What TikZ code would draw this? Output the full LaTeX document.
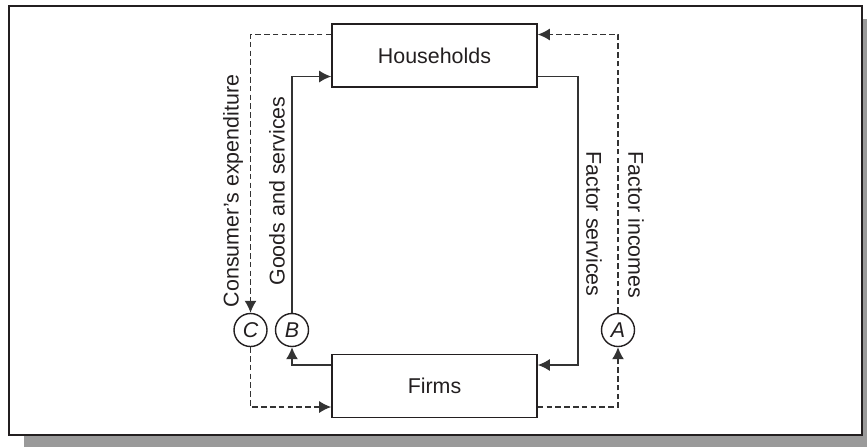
\documentclass[tikz,border=0pt]{standalone}
\usepackage{fontspec}
\setmainfont{Liberation Sans}
\usetikzlibrary{arrows.meta, positioning}
\definecolor{cink}{HTML}{231F20}
\definecolor{cline}{HTML}{333333}
\definecolor{cshadow}{HTML}{9A9A9A}
\tikzset{
  every picture/.style={font=\fontsize{10.7}{12}\selectfont, line width=0.7pt},
  sector/.style={draw=cink, line width=0.8pt, fill=white, minimum width=102.5pt, minimum height=31.5pt, inner sep=0pt, text=cink},
  flow/.style={-{Latex[length=6pt, width=6pt]}, draw=cline, line width=0.7pt},
  money/.style={flow, dash pattern=on 2.8pt off 1.6pt},
  point/.style={circle, draw=cink, line width=0.7pt, minimum size=16.5pt, inner sep=0pt, font=\fontsize{10.7}{12}\selectfont\itshape, text=cink},
  tag/.style={text=cink, inner sep=1pt},
}

\begin{document}
\begin{tikzpicture}[x=0.5pt, y=-0.5pt]
  \def\off{10.5pt}
  \useasboundingbox (0,0) rectangle (867,447);
  % frame with shadow
  \fill[cshadow] (24,19) rectangle (867,447);
  \draw[cink, line width=0.8pt, fill=white] (9,6) rectangle (862,435);
  % sectors
  \node[sector] (hh) at (434.5,55.5) {Households};
  \node[sector] (fm) at (434.5,386) {Firms};
  % points
  \node[point] (C) at (250.5,330) {C};
  \node[point] (B) at (292,330) {B};
  \node[point] (A) at (618,330) {A};
  % real flows
  \draw[flow] (B.north) |- ([yshift=-\off]hh.west);
  \draw[flow] ([yshift=\off]fm.west) -| (B.south);
  \draw[flow] ([yshift=-\off]hh.east) -- ++(40,0) |- ([yshift=\off]fm.east);
  % money flows
  \draw[money] ([yshift=\off]hh.west) -| (C.north);
  \draw[money] (C.south) |- ([yshift=-\off]fm.west);
  \draw[money] ([yshift=-\off]fm.east) -| (A.south);
  \draw[money] (A.north) |- ([yshift=\off]hh.east);
  % labels
  \node[tag, rotate=90] (spend) at (233,191) {Consumer's expenditure};
  \node[tag, rotate=90] (goods) at (277,191) {Goods and services};
  \node[tag, rotate=-90] (fserv) at (594,224) {Factor services};
  \node[tag, rotate=-90] (finc) at (636,225) {Factor incomes};
\end{tikzpicture}
\end{document}
